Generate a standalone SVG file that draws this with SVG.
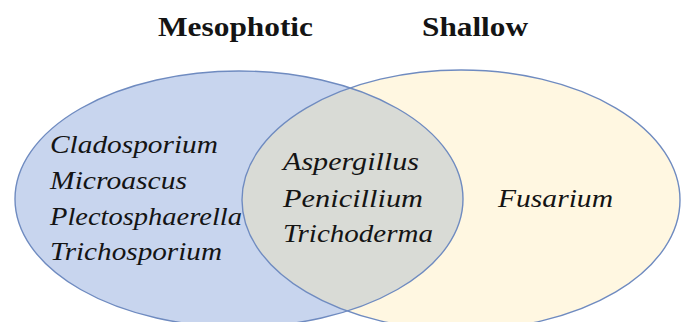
<svg xmlns="http://www.w3.org/2000/svg" width="681" height="322" viewBox="0 0 681 322">
<style>
.set{stroke:#6f8bc0;stroke-width:1.4}
.lbl{font-family:"Liberation Serif","Times New Roman",serif;font-style:italic;font-size:25px;fill:#141414}
.ttl{font-family:"Liberation Serif","Times New Roman",serif;font-weight:bold;font-size:28px;fill:#141414}
</style>
<defs>
<clipPath id="clipL"><ellipse cx="239" cy="199" rx="224" ry="128"/></clipPath>
</defs>
<rect width="681" height="322" fill="#ffffff"/>
<g id="mesophotic">
<ellipse cx="239" cy="199" rx="224" ry="128" fill="#c8d5ee"/>
</g>
<g id="shallow">
<ellipse cx="461" cy="200" rx="219" ry="130" fill="#fff7e1"/>
</g>
<g id="overlap">
<ellipse cx="461" cy="200" rx="219" ry="130" fill="#d9dbd6" clip-path="url(#clipL)"/>
</g>
<g id="outlines" fill="none">
<ellipse class="set" cx="239" cy="199" rx="224" ry="128"/>
<ellipse class="set" cx="461" cy="200" rx="219" ry="130"/>
</g>
<g id="titles">
<text class="ttl" x="158" y="36" textLength="155" lengthAdjust="spacingAndGlyphs">Mesophotic</text>
<text class="ttl" x="422" y="36" textLength="106" lengthAdjust="spacingAndGlyphs">Shallow</text>
</g>
<g id="mesophotic-labels">
<text class="lbl" x="50" y="153" textLength="168" lengthAdjust="spacingAndGlyphs">Cladosporium</text>
<text class="lbl" x="50" y="189" textLength="137" lengthAdjust="spacingAndGlyphs">Microascus</text>
<text class="lbl" x="50" y="225" textLength="192" lengthAdjust="spacingAndGlyphs">Plectosphaerella</text>
<text class="lbl" x="50" y="260" textLength="172" lengthAdjust="spacingAndGlyphs">Trichosporium</text>
</g>
<g id="overlap-labels">
<text class="lbl" x="283" y="170" textLength="136" lengthAdjust="spacingAndGlyphs">Aspergillus</text>
<text class="lbl" x="283" y="207" textLength="140" lengthAdjust="spacingAndGlyphs">Penicillium</text>
<text class="lbl" x="283" y="242" textLength="150" lengthAdjust="spacingAndGlyphs">Trichoderma</text>
</g>
<g id="shallow-labels">
<text class="lbl" x="498" y="207" textLength="115" lengthAdjust="spacingAndGlyphs">Fusarium</text>
</g>
</svg>
